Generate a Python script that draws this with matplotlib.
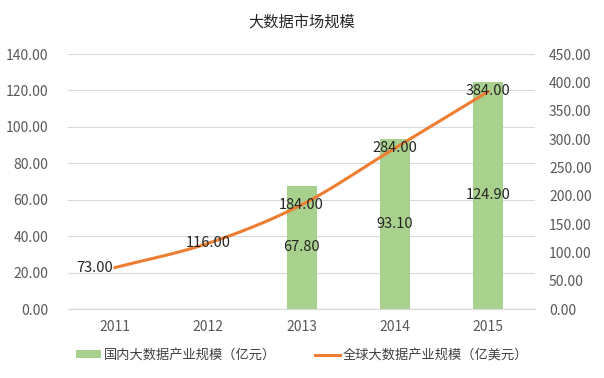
import numpy as np
import matplotlib.pyplot as plt
from matplotlib.patches import Patch
from matplotlib.lines import Line2D

plt.rcParams['font.family'] = ['Noto Sans CJK SC', 'DejaVu Sans']

# dati
years = ['2011', '2012', '2013', '2014', '2015']
domestic = [np.nan, np.nan, 67.80, 93.10, 124.90]   # 亿元
global_ = [73.00, 116.00, 184.00, 284.00, 384.00]   # 亿美元
title = '大数据市场规模'
label_bar = '国内大数据产业规模（亿元）'
label_line = '全球大数据产业规模（亿美元）'

GREEN = '#A9D18E'
ORANGE = '#ED7D31'
GRID = '#D9D9D9'
TXT = '#595959'


def smooth(x, y, n=30):
    # curva Catmull-Rom (linea "smussata" stile Excel)
    x = np.asarray(x, float)
    y = np.asarray(y, float)
    px = np.concatenate([[2 * x[0] - x[1]], x, [2 * x[-1] - x[-2]]])
    py = np.concatenate([[2 * y[0] - y[1]], y, [2 * y[-1] - y[-2]]])
    xs, ys = [], []
    for i in range(1, len(px) - 2):
        t = np.linspace(0, 1, n)
        for p, out in ((px, xs), (py, ys)):
            p0, p1, p2, p3 = p[i - 1], p[i], p[i + 1], p[i + 2]
            out.append(0.5 * ((2 * p1) + (-p0 + p2) * t
                              + (2 * p0 - 5 * p1 + 4 * p2 - p3) * t ** 2
                              + (-p0 + 3 * p1 - 3 * p2 + p3) * t ** 3))
    return np.concatenate(xs), np.concatenate(ys)


fig = plt.figure(figsize=(6.04, 3.78), dpi=100)
ax1 = fig.add_axes([0.1126, 0.1825, 0.7734, 0.6745])
ax2 = ax1.twinx()

x = np.arange(len(years))
ax1.bar(x, domestic, width=0.32, color=GREEN, zorder=2)
ax1.set_ylim(0, 140)
ax1.set_yticks(np.arange(0, 141, 20))
ax1.set_yticklabels([f'{v:.2f}' for v in np.arange(0, 141, 20)])
ax1.set_xlim(-0.5, len(years) - 0.5)
ax1.set_xticks(x)
ax1.set_xticklabels(years)
ax1.grid(axis='y', color=GRID, linewidth=0.8, zorder=0)
ax1.set_axisbelow(True)

for xi, v in zip(x, domestic):
    if not np.isnan(v):
        ax1.text(xi, v / 2, f'{v:.2f}', ha='center', va='center',
                 fontsize=10.5, color='#262626', zorder=5)

sx, sy = smooth(x, global_)
ax2.plot(sx, sy, color=ORANGE, linewidth=2.2, solid_capstyle='round', zorder=3)
ax2.set_ylim(0, 450)
ax2.set_yticks(np.arange(0, 451, 50))
ax2.set_yticklabels([f'{v:.2f}' for v in np.arange(0, 451, 50)])

for xi, v in zip(x, global_):
    dx = -0.22 if xi == 0 else 0
    ax2.text(xi + dx, v, f'{v:.2f}', ha='center', va='center',
             fontsize=10.5, color='#262626', zorder=5)

for ax in (ax1, ax2):
    for s in ('top', 'left', 'right'):
        ax.spines[s].set_visible(False)
    ax.spines['bottom'].set_color(GRID)
    ax.tick_params(length=0, labelsize=10, colors=TXT)
ax1.tick_params(axis='y', pad=14)
ax2.tick_params(axis='y', pad=10)
ax1.tick_params(axis='x', pad=8)

fig.text(0.5, 0.942, title, ha='center', va='center', fontsize=11, color='#262626')

handles = [Patch(facecolor=GREEN, edgecolor='none'),
           Line2D([0], [0], color=ORANGE, linewidth=2.2)]
fig.legend(handles, [label_bar, label_line], loc='center', ncol=2,
           bbox_to_anchor=(0.5, 0.06), frameon=False, fontsize=9.5,
           labelcolor='#404040', handlelength=1.9, handleheight=0.5,
           columnspacing=2.9, handletextpad=0.25)

plt.savefig('out.png', dpi=100)
plt.close()
